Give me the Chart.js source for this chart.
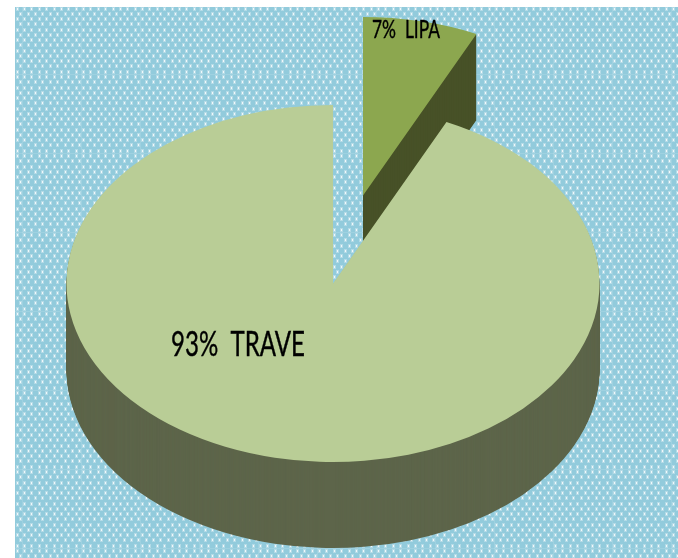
<!DOCTYPE html>
<html>
<head>
<meta charset="utf-8">
<title>LIPA / TRAVE</title>
<script src="https://cdn.jsdelivr.net/npm/chart.js@4"></script>
<style>
    html, body { margin: 0; padding: 0; background: #ffffff; }
    canvas { display: block; }
</style>
</head>
<body>
<canvas id="pieChart" width="678" height="558"></canvas>
<script>
// Chart data
const categories = ['LIPA', 'TRAVE'];
const shares = [7, 93];

// Slice colours: top face and side wall
const topColors = ['#8CA74F', '#B9CD96'];
const wallColors = ['#475127', '#5D654A'];

// Tilted pie geometry
const pieCenterX = 333;
const pieCenterY = 283.5;
const pieRadius = 266.5;
const pieSquash = 178.5 / 266.5;
const pieDepth = 86;
const sliceShiftX = [30, 0];
const sliceShiftY = [-88, 0];

// Text placement per slice
const labelSpots = [
    { x: 372, y: 38, size: 25, width: 68 },
    { x: 171, y: 356, size: 34, width: 134 }
];

// Dotted background tile
function buildDotPattern(ctx) {
    const tileW = 59;
    const tileH = 79;
    const tile = document.createElement('canvas');
    tile.width = tileW;
    tile.height = tileH;
    const t = tile.getContext('2d');
    t.fillStyle = '#92CBDC';
    t.fillRect(0, 0, tileW, tileH);
    const stepX = tileW / 8;
    const stepY = tileH / 15;
    for (let row = 0; row < 16; row++) {
        for (let col = -1; col < 9; col++) {
            const x = Math.round(col * stepX + (row % 2 ? stepX / 2 : 0) + 2);
            const y = Math.round(row * stepY + 2);
            t.fillStyle = 'rgba(255,255,255,0.3)';
            t.fillRect(x - 1, y - 1, 3, 4);
            t.fillStyle = 'rgba(255,255,255,0.8)';
            t.fillRect(x, y, 1, 2);
        }
    }
    // faint lighter seam along the tile edges
    t.fillStyle = 'rgba(255,255,255,0.12)';
    t.fillRect(0, 0, tileW, 1);
    t.fillRect(0, 0, 1, tileH);
    return ctx.createPattern(tile, 'repeat');
}

const backgroundPlugin = {
    id: 'dottedBackground',
    beforeDraw(chart) {
        const ctx = chart.ctx;
        ctx.save();
        ctx.translate(22, 74);
        ctx.fillStyle = buildDotPattern(ctx);
        ctx.fillRect(15 - 22, 7 - 74, 678, 558);
        ctx.restore();
    }
};

// Draws the arcs squashed into an ellipse, each with an extruded wall under it
const tiltedPiePlugin = {
    id: 'tiltedPie',
    beforeDatasetsDraw(chart) {
        const ctx = chart.ctx;
        const arcs = chart.getDatasetMeta(0).data;
        arcs.forEach((arc, i) => {
            const faceOptions = arc.options;

            ctx.save();
            ctx.translate(pieCenterX + sliceShiftX[i], pieCenterY + sliceShiftY[i]);
            ctx.scale(1, pieSquash);
            ctx.translate(-arc.x, -arc.y);

            // side wall: the same arc repeated downwards
            arc.options = Object.assign({}, faceOptions, { backgroundColor: wallColors[i] });
            for (let d = pieDepth; d > 0; d--) {
                ctx.save();
                ctx.translate(0, d / pieSquash);
                arc.draw(ctx);
                ctx.restore();
            }
            arc.options = faceOptions;
            arc.draw(ctx);
            ctx.restore();
        });
        return false;
    },
    afterDraw(chart) {
        const ctx = chart.ctx;
        ctx.save();
        ctx.fillStyle = '#000000';
        ctx.strokeStyle = '#000000';
        ctx.lineWidth = 0.4;
        ctx.textBaseline = 'alphabetic';
        categories.forEach((name, i) => {
            const spot = labelSpots[i];
            const text = shares[i] + '%  ' + name;
            ctx.font = spot.size + 'px Lato';
            ctx.fillText(text, spot.x, spot.y, spot.width);
            ctx.strokeText(text, spot.x, spot.y, spot.width);
        });
        ctx.restore();
    }
};

const ctx = document.getElementById('pieChart').getContext('2d');
new Chart(ctx, {
    type: 'pie',
    data: {
        labels: categories,
        datasets: [{
            data: shares,
            backgroundColor: topColors,
            borderWidth: 0
        }]
    },
    options: {
        responsive: false,
        animation: false,
        events: [],
        radius: pieRadius,
        plugins: {
            legend: { display: false },
            tooltip: { enabled: false }
        }
    },
    plugins: [backgroundPlugin, tiltedPiePlugin]
});
</script>
</body>
</html>
